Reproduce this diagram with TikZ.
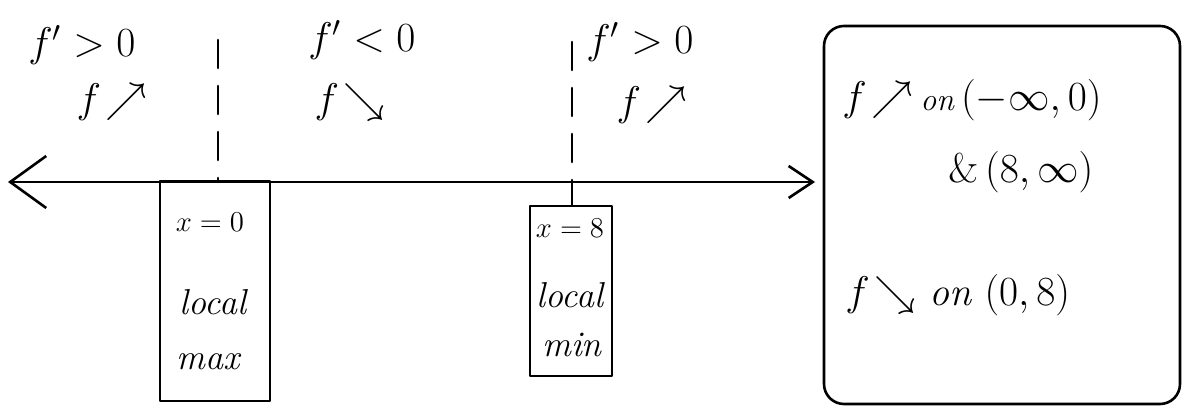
\documentclass[tikz,border=0pt]{standalone}
\usetikzlibrary{arrows.meta}
\begin{document}
\begin{tikzpicture}[x=0.5pt,y=-0.5pt,
  ink/.style={line width=1.3pt, line cap=round, line join=round},
  dashline/.style={ink, dash pattern=on 14pt off 9pt},
  boxstyle/.style={draw, ink, inner sep=0, minimum width=#1},
  big/.style={font=\fontsize{20}{24}\selectfont, inner sep=0},
  bigger/.style={font=\fontsize{22}{26}\selectfont, inner sep=0},
  mid/.style={font=\fontsize{18}{22}\selectfont, inner sep=0},
  small/.style={font=\fontsize{15}{18}\selectfont, inner sep=0}]
\useasboundingbox (0,0) rectangle (1188,415);
% number line
\coordinate (L) at (8,182);
\coordinate (R) at (815,182);
\draw[ink, {Straight Barb[length=18pt,width=26pt]}-{Straight Barb[length=12pt,width=16pt]}] (L) -- (R);
% dashed lines
\coordinate (d1t) at (218,40);
\coordinate (d1b) at (218,180);
\coordinate (d2t) at (572,42);
\coordinate (d2b) at (572,205);
\draw[dashline] (d1t) -- (d1b);
\draw[dashline] (d2t) -- (d2b);
% labels above
\node[big] (a1) at (82,45) {$f'>0$};
\node[big] (a2) at (362,40) {$f'<0$};
\node[big] (a3) at (640,42) {$f'>0$};
\node[big] (b1) at (112,102) {$f\!\nearrow$};
\node[big] (b2) at (350,102) {$f\!\searrow$};
\node[big] (b3) at (652,105) {$f\!\nearrow$};
% box 1
\node[boxstyle=55pt, minimum height=110pt] (box1) at (215,291) {};
\node[small] (x0) at (210,222) {$x=0$};
\node[mid] (loc1) at (213,302) {\itshape local};
\node[mid] (max) at (208,362) {\itshape max};
% box 2
\node[boxstyle=41pt, minimum height=85pt] (box2) at (571,291) {};
\node[small] (x8) at (570,228) {$x=8$};
\node[mid] (loc2) at (570,295) {\itshape local};
\node[mid] (min) at (572,345) {\itshape min};
% box 3
\node[draw, ink, rounded corners=10pt, minimum width=178pt, minimum height=189pt, inner sep=0] (box3) at (1002,215) {};
\node[bigger, anchor=west] (r1) at (842,100) {$f\!\nearrow$\,{\fontsize{16}{19}\selectfont\itshape on}\,$(-\infty,0)$};
\node[bigger, anchor=west] (r2) at (948,172) {$\&\,(8,\infty)$};
\node[bigger, anchor=west] (r3) at (845,295) {$f\!\searrow$\ {\fontsize{20}{24}\selectfont\itshape on}\ $(0,8)$};
\end{tikzpicture}
\end{document}
